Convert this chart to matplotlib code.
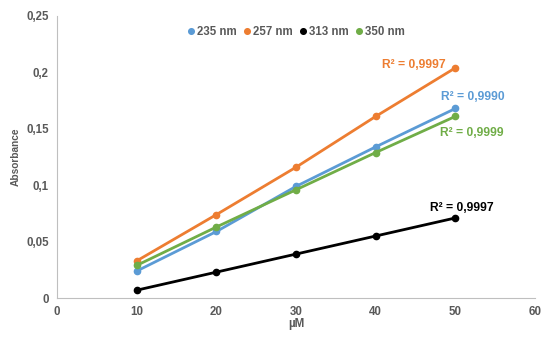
import matplotlib.pyplot as plt

plt.rcParams['font.family'] = ['Liberation Sans', 'DejaVu Sans']

conc = [10, 20, 30, 40, 50]
abs_235 = [0.024, 0.059, 0.099, 0.134, 0.168]
abs_257 = [0.033, 0.074, 0.116, 0.161, 0.204]
abs_313 = [0.007, 0.023, 0.039, 0.055, 0.071]
abs_350 = [0.029, 0.063, 0.096, 0.129, 0.161]
labels = ['235 nm', '257 nm', '313 nm', '350 nm']
r2 = ['0,9990', '0,9997', '0,9997', '0,9999']
colors = ['#5B9BD5', '#ED7D31', '#000000', '#70AD47']
xticks = [0, 10, 20, 30, 40, 50, 60]
yticks = [0, 0.05, 0.1, 0.15, 0.2, 0.25]
yticklabels = ['0', '0,05', '0,1', '0,15', '0,2', '0,25']

grey = '#595959'
fig = plt.figure(figsize=(5.55, 3.47), dpi=100)
ax = fig.add_axes([0.103, 0.141, 0.861, 0.813])

series = [abs_235, abs_257, abs_313, abs_350]
for vals, lab, c in zip(series, labels, colors):
    ax.plot(conc, vals, color=c, lw=2, marker='o', ms=4.5, label=lab)

# R² labels, positions in data units
r2_pos = [(52.2, 0.178), (44.8, 0.2066), (50.8, 0.080), (52.1, 0.146)]
for (tx, ty), txt, c in zip(r2_pos, r2, colors):
    ax.text(tx, ty, 'R² = ' + txt, color=c, fontsize=8.7, fontweight='bold',
            ha='center', va='center')

ax.set_xlim(0, 60)
ax.set_ylim(0, 0.25)
ax.set_xticks(xticks)
ax.set_yticks(yticks)
ax.set_yticklabels(yticklabels)
ax.tick_params(length=0, labelsize=8.3, colors=grey, pad=6)
for t in ax.get_xticklabels() + ax.get_yticklabels():
    t.set_fontweight('bold')
for s in ['top', 'right']:
    ax.spines[s].set_visible(False)
for s in ['left', 'bottom']:
    ax.spines[s].set_color('#BFBFBF')

ax.set_xlabel('µM', fontsize=8.3, fontweight='bold', color=grey, labelpad=0)
ax.set_ylabel('Absorbance', fontsize=7.3, fontweight='bold', color=grey, labelpad=4)

leg = ax.legend(loc='upper center', bbox_to_anchor=(0.5, 1.0), ncol=4, frameon=False,
                fontsize=8.3, handlelength=0.6, handletextpad=0.2, columnspacing=0.6,
                markerscale=0.9)
for h in leg.legend_handles:
    h.set_linestyle('none')
for t in leg.get_texts():
    t.set_color(grey)
    t.set_fontweight('bold')

fig.savefig('out.png', dpi=100)
